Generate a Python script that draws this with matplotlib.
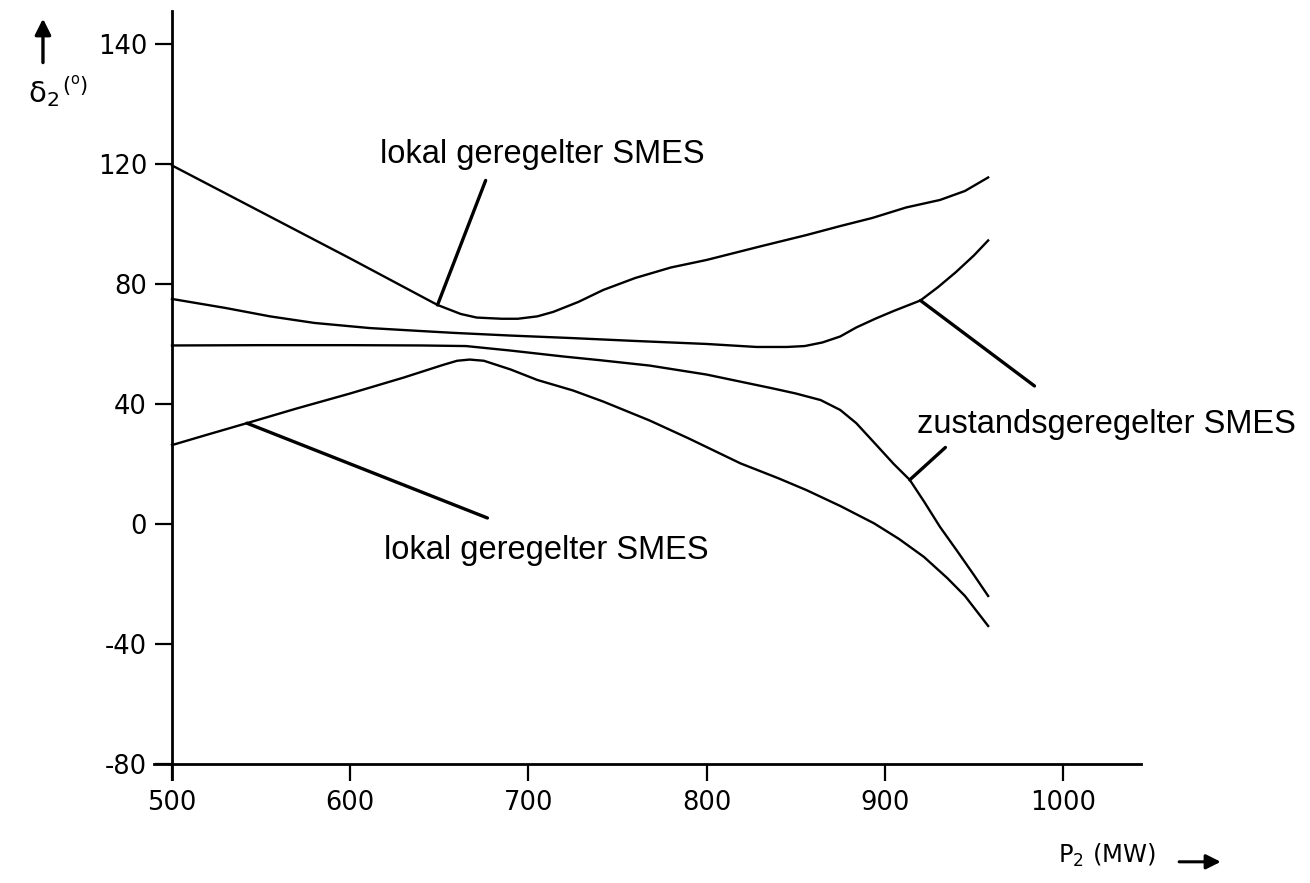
import matplotlib
matplotlib.use("Agg")
import matplotlib.pyplot as plt
from matplotlib.patches import FancyArrowPatch

# ---- data ----
# upper "lokal geregelter SMES" curve
lokal_up_x = [500, 550, 600, 649, 662, 671, 685, 694, 705, 714, 728, 742, 760, 780,
              800, 830, 856, 875, 893, 912, 931, 945, 958]
lokal_up_y = [119.5, 104, 88.5, 73, 70, 68.8, 68.4, 68.4, 69.2, 70.7, 74, 78, 82, 85.5,
              88, 92.5, 96.3, 99.3, 102, 105.5, 108, 111, 115.5]
# upper "zustandsgeregelter SMES" curve
zust_up_x = [500, 530, 555, 580, 611, 640, 658, 690, 723, 760, 780, 800, 828, 845, 855,
             865, 875, 884, 895, 905, 920, 930, 940, 950, 958]
zust_up_y = [75, 72, 69.2, 67, 65.3, 64.3, 63.7, 62.8, 62, 61, 60.5, 60, 59, 59, 59.3,
             60.5, 62.5, 65.5, 68.5, 71, 74.5, 79, 84, 89.5, 94.5]
# lower "zustandsgeregelter SMES" curve
zust_lo_x = [500, 550, 600, 640, 665, 690, 720, 740, 768, 800, 837, 850, 864, 875, 884,
             895, 905, 914, 922, 931, 940, 950, 958]
zust_lo_y = [59.5, 59.6, 59.6, 59.5, 59.3, 57.8, 55.8, 54.6, 52.8, 49.8, 45.2, 43.5, 41.3,
             38, 33.6, 26.5, 20, 14.7, 7.5, -1, -8.5, -17, -24]
# lower "lokal geregelter SMES" curve
lokal_lo_x = [500, 520, 542, 570, 600, 630, 652, 660, 667, 675, 690, 705, 725, 742, 768,
              790, 819, 840, 856, 875, 894, 908, 922, 935, 945, 958]
lokal_lo_y = [26.3, 29.8, 33.6, 38.5, 43.5, 48.8, 53, 54.4, 54.8, 54.4, 51.5, 48, 44.5,
              40.8, 34.5, 28.5, 20.2, 15.3, 11.3, 6, 0.2, -5, -11, -18, -24, -34]

x_ticks = [500, 600, 700, 800, 900, 1000]
x_tick_labels = ["500", "600", "700", "800", "900", "1000"]
y_ticks = [-80, -40, 0, 40, 80, 120, 160]
y_tick_labels = ["-80", "-40", "0", "40", "80", "120", "140"]

label_lokal = "lokal geregelter SMES"
label_zust = "zustandsgeregelter SMES"

# ---- figure ----
fig = plt.figure(figsize=(13.10, 8.83), dpi=100)
ax = fig.add_axes([0.1177, 0.1178, 0.7536, 0.8698])

lw = 1.7
for xs, ys in [(lokal_up_x, lokal_up_y), (zust_up_x, zust_up_y),
               (zust_lo_x, zust_lo_y), (lokal_lo_x, lokal_lo_y)]:
    ax.plot(xs, ys, color="black", lw=lw, solid_joinstyle="round")

ax.set_xlim(490, 1044)
ax.set_ylim(-85, 171)

for s in ["top", "right"]:
    ax.spines[s].set_visible(False)
ax.spines["left"].set_position(("data", 500))
ax.spines["bottom"].set_position(("data", -80))
ax.spines["left"].set_linewidth(2.0)
ax.spines["bottom"].set_linewidth(2.0)

ax.set_xticks(x_ticks)
ax.set_xticklabels(x_tick_labels)
ax.set_yticks(y_ticks)
ax.set_yticklabels(y_tick_labels)
ax.tick_params(axis="both", direction="out", length=12, width=1.6,
               labelsize=18.5, pad=6, colors="black")
ax.tick_params(axis="x", pad=7)

# annotations (labels with leader lines)
txt_kw = dict(fontsize=23.5, family="Liberation Sans", color="black")
ax.text(617, 123, label_lokal, ha="left", va="center", **txt_kw)
ax.text(619, -9, label_lokal, ha="left", va="center", **txt_kw)
ax.text(918, 33, label_zust, ha="left", va="center", **txt_kw)

lead = dict(arrowstyle="-", lw=2.4, color="black", shrinkA=0, shrinkB=0)
ax.annotate("", xy=(649, 73), xytext=(676, 114.5), arrowprops=lead)
ax.annotate("", xy=(542, 33.6), xytext=(677, 2), arrowprops=lead)
ax.annotate("", xy=(920, 74.5), xytext=(984, 46), arrowprops=lead)
ax.annotate("", xy=(914, 14.7), xytext=(934, 25.5), arrowprops=lead)

# axis titles with arrows
fig.text(0.021, 0.893, "δ$_2$", fontsize=21, ha="left", va="center")
fig.text(0.047, 0.903, r"($\mathregular{^o}$)", fontsize=15, ha="left", va="center")
fig.add_artist(FancyArrowPatch(
    (0.0328, 0.926), (0.0328, 0.982), transform=fig.transFigure,
    arrowstyle="-|>", mutation_scale=24, lw=2.4, color="black"))

fig.text(0.808, 0.031, r"P$_2$ (MW)", fontsize=17.5, ha="left", va="center")
fig.add_artist(FancyArrowPatch(
    (0.898, 0.024), (0.934, 0.024), transform=fig.transFigure,
    arrowstyle="-|>", mutation_scale=22, lw=2.2, color="black"))

fig.savefig("out.png", dpi=100, facecolor="white")
